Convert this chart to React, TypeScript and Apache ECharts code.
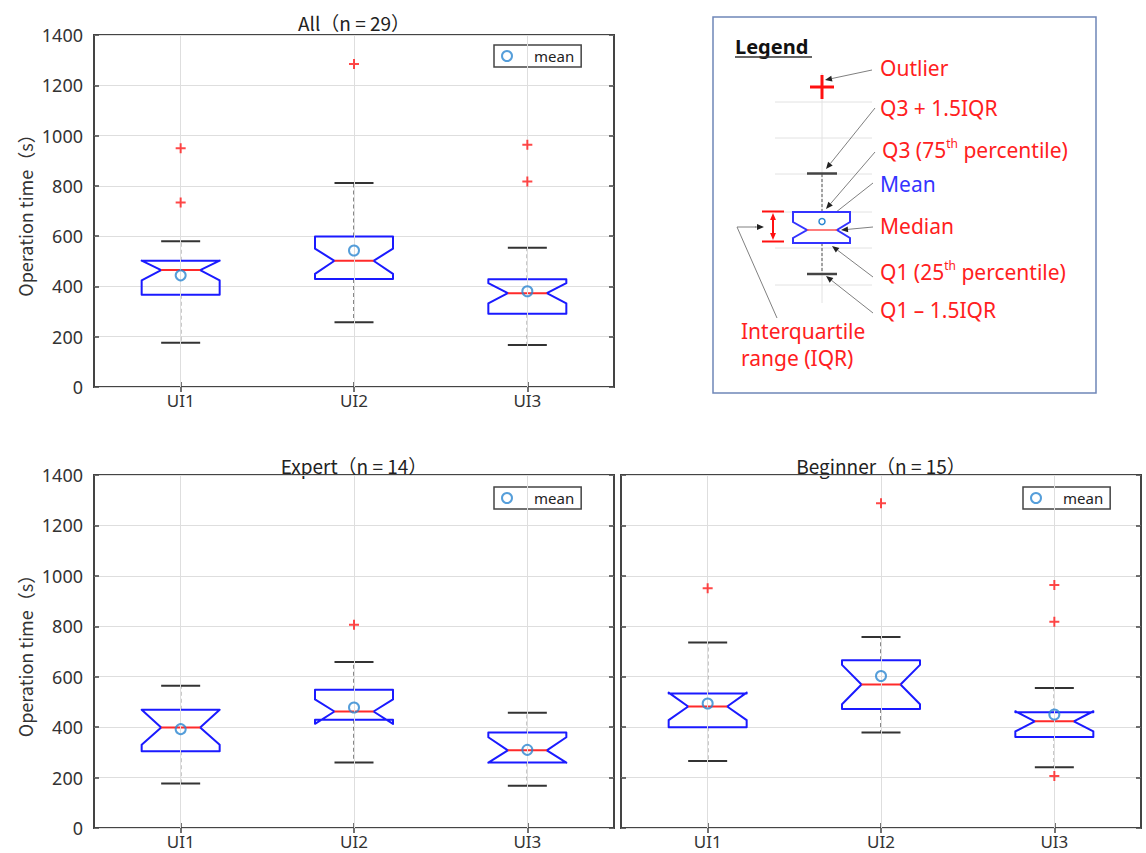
import React, { useEffect, useRef } from 'react';
import * as echarts from 'echarts';

// ---------- data ----------
const categories = ['UI1', 'UI2', 'UI3'];
const yMin = 0;
const yMax = 1400;
const yInterval = 200;

// each row: [lower whisker, Q1, notch low, median, notch high, Q3, upper whisker]
const allStats = [
  [176, 367, 424, 465, 503, 502, 580],
  [258, 430, 450, 502, 550, 599, 811],
  [167, 291, 333, 373, 413, 429, 554],
];
const allMeans = [444, 543, 381];
const allOutliers = [[950, 734], [1285], [963, 817]];

const expertStats = [
  [176, 304, 330, 399, 469, 469, 564],
  [260, 429, 413, 462, 510, 548, 658],
  [168, 260, 259, 308, 360, 379, 457],
];
const expertMeans = [392, 478, 310];
const expertOutliers = [[], [806], []];

const beginnerStats = [
  [266, 400, 428, 482, 537, 533, 736],
  [379, 472, 491, 569, 647, 665, 758],
  [241, 361, 383, 423, 463, 459, 555],
];
const beginnerMeans = [494, 603, 450];
const beginnerOutliers = [[951], [1288], [964, 818, 206]];

const panelTitles = ['All（n = 29）', 'Expert（n = 14）', 'Beginner（n = 15）'];
const yAxisName = 'Operation time（s）';

// ---------- styles ----------
const CJK = '"Noto Sans CJK JP", "Noto Sans", sans-serif';
const SANS = '"Noto Sans", "DejaVu Sans", sans-serif';
const FRAME = '#444';
const TXT = '#333';
const BOX_BLUE = '#1a1aff';
const MED_RED = '#ff2a2a';
const MEAN_BLUE = '#2a86d1';
const OUT_RED = '#ff1a1a';
const RED = '#ff2020';
const BLUE_TXT_COLOR = '#3535ff';
const GRAY_ARROW = '#808080';

const PLUS = 'path://M4,0h2v4h4v2h-4v4h-2v-4h-4v-2h4z';

const panels = [
  { stats: allStats, means: allMeans, outliers: allOutliers, grid: { left: 94, top: 35, width: 520, height: 352 }, legend: { left: 494, top: 45 }, title: { x: 354, y: 22 }, yLabels: true },
  { stats: expertStats, means: expertMeans, outliers: expertOutliers, grid: { left: 94, top: 475, width: 520, height: 353 }, legend: { left: 494, top: 487 }, title: { x: 354, y: 465 }, yLabels: true },
  { stats: beginnerStats, means: beginnerMeans, outliers: beginnerOutliers, grid: { left: 621, top: 475, width: 520, height: 353 }, legend: { left: 1023, top: 487 }, title: { x: 881, y: 465 }, yLabels: false },
];

const renderBox = (_params: any, api: any) => {
  const ci = api.value(0);
  const wl = api.value(1);
  const q1 = api.value(2);
  const nl = api.value(3);
  const md = api.value(4);
  const nh = api.value(5);
  const q3 = api.value(6);
  const wh = api.value(7);
  const x = api.coord([ci, md])[0];
  const Y = (v: number) => api.coord([ci, v])[1];
  const band = api.size([1, 0])[0];
  const hw = band * 0.225;
  const nw = hw / 2;
  const pts = [
    [x - hw, Y(q3)], [x + hw, Y(q3)], [x + hw, Y(nh)], [x + nw, Y(md)], [x + hw, Y(nl)], [x + hw, Y(q1)],
    [x - hw, Y(q1)], [x - hw, Y(nl)], [x - nw, Y(md)], [x - hw, Y(nh)],
  ];
  const dash = { stroke: '#3a3a3a', lineWidth: 1.2, lineDash: [4, 3] };
  const cap = { stroke: '#333', lineWidth: 2 };
  return {
    type: 'group',
    children: [
      { type: 'line', shape: { x1: x, y1: Y(q3), x2: x, y2: Y(wh) }, style: dash },
      { type: 'line', shape: { x1: x, y1: Y(q1), x2: x, y2: Y(wl) }, style: dash },
      { type: 'line', shape: { x1: x - nw, y1: Y(wh), x2: x + nw, y2: Y(wh) }, style: cap },
      { type: 'line', shape: { x1: x - nw, y1: Y(wl), x2: x + nw, y2: Y(wl) }, style: cap },
      { type: 'polygon', shape: { points: pts }, style: { fill: 'none', stroke: BOX_BLUE, lineWidth: 2, lineJoin: 'round' } },
      { type: 'line', shape: { x1: x - nw, y1: Y(md), x2: x + nw, y2: Y(md) }, style: { stroke: MED_RED, lineWidth: 2 } },
    ],
  };
};

function arrow(x1: number, y1: number, x2: number, y2: number, color = '#222', lineColor = GRAY_ARROW, size = 7, lw = 1) {
  const dx = x2 - x1;
  const dy = y2 - y1;
  const len = Math.hypot(dx, dy) || 1;
  const ux = dx / len;
  const uy = dy / len;
  const bx = x2 - ux * size;
  const by = y2 - uy * size;
  const px = -uy * size * 0.42;
  const py = ux * size * 0.42;
  return [
    { type: 'line', silent: true, z: 10, shape: { x1, y1, x2: bx, y2: by }, style: { stroke: lineColor, lineWidth: lw } },
    { type: 'polygon', silent: true, z: 10, shape: { points: [[x2, y2], [bx + px, by + py], [bx - px, by - py]] }, style: { fill: color } },
  ];
}

function redText(text: string, x: number, y: number, fill = RED) {
  return {
    type: 'text', silent: true, z: 10, x, y,
    style: { text, fill, fontSize: 21, lineHeight: 24, fontFamily: SANS, align: 'left', verticalAlign: 'middle' },
  };
}

function supText(pre: string, sup: string, post: string, x: number, y: number) {
  return {
    type: 'text', silent: true, z: 10, x, y,
    style: {
      text: `{a|${pre}}{s|${sup}}{a|${post}}`,
      align: 'left', verticalAlign: 'middle',
      rich: {
        a: { fontSize: 21, fontFamily: SANS, fill: RED, lineHeight: 26 },
        s: { fontSize: 12, fontFamily: SANS, fill: RED, lineHeight: 20, verticalAlign: 'top' },
      },
    },
  };
}

function legendPanel() {
  const g: any[] = [];
  g.push({ type: 'rect', silent: true, z: 9, shape: { x: 713, y: 17, width: 383, height: 376 }, style: { fill: '#fff', stroke: '#6f86b8', lineWidth: 1.5 } });
  g.push({ type: 'text', silent: true, z: 10, x: 735, y: 46, style: { text: 'Legend', fill: '#111', fontSize: 20, fontWeight: 'bold', fontFamily: SANS, align: 'left', verticalAlign: 'middle' } });
  g.push({ type: 'line', silent: true, z: 10, shape: { x1: 735, y1: 57, x2: 812, y2: 57 }, style: { stroke: '#333', lineWidth: 1.5 } });
  // mini grid
  [102, 138, 174, 212, 248, 285].forEach((yy) => {
    g.push({ type: 'line', silent: true, z: 10, shape: { x1: 775, y1: yy, x2: 872, y2: yy }, style: { stroke: '#e2e2e2', lineWidth: 1 } });
  });
  g.push({ type: 'line', silent: true, z: 10, shape: { x1: 822, y1: 73, x2: 822, y2: 303 }, style: { stroke: '#e2e2e2', lineWidth: 1 } });
  // outlier
  g.push({ type: 'line', silent: true, z: 11, shape: { x1: 810, y1: 87, x2: 834, y2: 87 }, style: { stroke: '#ff1010', lineWidth: 3 } });
  g.push({ type: 'line', silent: true, z: 11, shape: { x1: 822, y1: 75, x2: 822, y2: 99 }, style: { stroke: '#ff1010', lineWidth: 3 } });
  // whiskers
  g.push({ type: 'line', silent: true, z: 11, shape: { x1: 822, y1: 174, x2: 822, y2: 212 }, style: { stroke: '#555', lineWidth: 1, lineDash: [3, 2] } });
  g.push({ type: 'line', silent: true, z: 11, shape: { x1: 822, y1: 243, x2: 822, y2: 274 }, style: { stroke: '#555', lineWidth: 1, lineDash: [3, 2] } });
  g.push({ type: 'line', silent: true, z: 11, shape: { x1: 807, y1: 173.5, x2: 837, y2: 173.5 }, style: { stroke: '#444', lineWidth: 2.5 } });
  g.push({ type: 'line', silent: true, z: 11, shape: { x1: 807, y1: 274, x2: 837, y2: 274 }, style: { stroke: '#444', lineWidth: 2.5 } });
  // box
  g.push({ type: 'polygon', silent: true, z: 11, shape: { points: [[793, 212], [850, 212], [850, 222], [837, 230], [850, 238], [850, 243], [793, 243], [793, 238], [807, 230], [793, 222]] }, style: { fill: '#fff', stroke: '#3333ff', lineWidth: 2 } });
  g.push({ type: 'line', silent: true, z: 12, shape: { x1: 807, y1: 230, x2: 837, y2: 230 }, style: { stroke: '#ff5050', lineWidth: 1.5 } });
  g.push({ type: 'circle', silent: true, z: 12, shape: { cx: 822, cy: 221.5, r: 3 }, style: { fill: 'none', stroke: MEAN_BLUE, lineWidth: 1.5 } });
  // IQR bracket
  g.push({ type: 'line', silent: true, z: 11, shape: { x1: 762, y1: 211.5, x2: 784, y2: 211.5 }, style: { stroke: '#ff1010', lineWidth: 2 } });
  g.push({ type: 'line', silent: true, z: 11, shape: { x1: 762, y1: 241.5, x2: 784, y2: 241.5 }, style: { stroke: '#ff1010', lineWidth: 2 } });
  g.push(...arrow(773, 226, 773, 213, '#ff1010', '#ff1010', 7, 2));
  g.push(...arrow(773, 226, 773, 240, '#ff1010', '#ff1010', 7, 2));
  // arrows
  g.push(...arrow(872, 70, 825, 80));
  g.push(...arrow(875, 108, 826, 169));
  g.push(...arrow(875, 152, 826, 209));
  g.push(...arrow(873, 183, 826, 220));
  g.push(...arrow(873, 227, 841, 230));
  g.push(...arrow(873, 277, 832, 246));
  g.push(...arrow(873, 313, 826, 276));
  g.push({ type: 'polyline', silent: true, z: 10, shape: { points: [[777, 318], [737, 227], [756, 227]] }, style: { fill: 'none', stroke: GRAY_ARROW, lineWidth: 1 } });
  g.push(...arrow(755, 227, 764, 227));
  // labels
  g.push(redText('Outlier', 880, 68));
  g.push(redText('Q3 + 1.5IQR', 880, 108));
  g.push(supText('Q3 (75', 'th', ' percentile)', 882, 150));
  g.push(redText('Mean', 880, 184, BLUE_TXT_COLOR));
  g.push(redText('Median', 880, 226));
  g.push(supText('Q1 (25', 'th', ' percentile)', 880, 272));
  g.push(redText('Q1 – 1.5IQR', 880, 310));
  g.push(redText('Interquartile', 741, 331));
  g.push(redText('range (IQR)', 741, 358));
  return g;
}

function buildOption() {
  const grid: any[] = [];
  const xAxis: any[] = [];
  const yAxis: any[] = [];
  const series: any[] = [];
  const legend: any[] = [];
  const graphic: any[] = [];

  panels.forEach((p) => {
    grid.push({ ...p.grid, show: true, borderColor: FRAME, borderWidth: 2, backgroundColor: 'transparent' });
  });
  panels.forEach((p, g) => {
    xAxis.push({
      type: 'category', gridIndex: g, data: categories, position: 'bottom',
      axisLine: { show: false },
      axisTick: { show: true, inside: true, length: 5, alignWithLabel: true, lineStyle: { color: FRAME, width: 1.5 } },
      axisLabel: { fontSize: 17, lineHeight: 17, color: TXT, margin: 5, fontFamily: SANS },
      splitLine: { show: false },
    });
  });
  panels.forEach((p, g) => {
    xAxis.push({
      type: 'category', gridIndex: g, data: categories, position: 'top',
      axisLine: { show: false },
      axisTick: { show: true, inside: true, length: 5, alignWithLabel: true, lineStyle: { color: FRAME, width: 1.5 } },
      axisLabel: { show: false },
      splitLine: { show: false },
    });
  });
  panels.forEach((p, g) => {
    yAxis.push({
      type: 'value', gridIndex: g, min: yMin, max: yMax, interval: yInterval, position: 'left',
      axisLine: { show: false },
      axisTick: { show: true, inside: true, length: 5, lineStyle: { color: FRAME, width: 1.5 } },
      axisLabel: { show: p.yLabels, fontSize: 18, color: TXT, margin: 11, fontFamily: SANS, formatter: (v: number) => String(v) },
      splitLine: { show: true, lineStyle: { color: '#dedede', width: 1 } },
      name: p.yLabels ? yAxisName : '',
      nameLocation: 'middle', nameGap: 60,
      nameTextStyle: { fontSize: 18, color: TXT, fontFamily: CJK },
    });
  });
  panels.forEach((p, g) => {
    yAxis.push({
      type: 'value', gridIndex: g, min: yMin, max: yMax, interval: yInterval, position: 'right',
      axisLine: { show: false },
      axisTick: { show: true, inside: true, length: 5, lineStyle: { color: FRAME, width: 1.5 } },
      axisLabel: { show: false },
      splitLine: { show: false },
    });
  });

  panels.forEach((p, g) => {
    series.push({
      type: 'scatter', name: 'grid', xAxisIndex: g, yAxisIndex: g, data: [], z: 1, silent: true,
      markLine: {
        silent: true, symbol: 'none', label: { show: false }, animation: false,
        lineStyle: { color: '#dedede', width: 1, type: 'solid' },
        data: categories.map((c) => ({ xAxis: c })),
      },
    });
    series.push({
      type: 'custom', name: 'box', xAxisIndex: g, yAxisIndex: g, z: 3, silent: true,
      renderItem: renderBox,
      encode: { x: 0, y: [1, 2, 3, 4, 5, 6, 7] },
      data: p.stats.map((s, i) => [i, ...s]),
    });
    const outs: number[][] = [];
    p.outliers.forEach((list, i) => list.forEach((v) => outs.push([i, v])));
    series.push({
      type: 'scatter', name: 'outlier', xAxisIndex: g, yAxisIndex: g, z: 5, silent: true,
      symbol: PLUS, symbolSize: 10, itemStyle: { color: OUT_RED }, data: outs,
    });
    series.push({
      type: 'scatter', name: 'mean', xAxisIndex: g, yAxisIndex: g, z: 6, silent: true,
      symbol: 'circle', symbolSize: 10,
      itemStyle: { color: 'rgba(0,0,0,0)', borderColor: MEAN_BLUE, borderWidth: 2 },
      data: p.means.map((m, i) => [i, m]),
    });
    legend.push({
      left: p.legend.left, top: p.legend.top, orient: 'horizontal', selectedMode: false,
      data: [{ name: 'mean', icon: 'circle' }],
      itemWidth: 44, itemHeight: 10, padding: [2, 7, 2, 7],
      borderColor: '#444', borderWidth: 1.5, borderRadius: 0, backgroundColor: '#fff',
      itemStyle: { color: 'rgba(0,0,0,0)', borderColor: MEAN_BLUE, borderWidth: 2 },
      textStyle: { fontSize: 15, color: '#222', lineHeight: 18, fontFamily: SANS },
    });
    graphic.push({
      type: 'text', silent: true, x: p.title.x, y: p.title.y,
      style: { text: panelTitles[g], fill: '#222', fontSize: 19, fontFamily: CJK, align: 'center', verticalAlign: 'middle' },
    });
  });

  graphic.push(...legendPanel());

  return {
    animation: false,
    backgroundColor: '#fff',
    grid, xAxis, yAxis, series, legend, graphic,
  };
}

export default function App() {
  const ref = useRef<HTMLDivElement>(null);
  useEffect(() => {
    document.body.style.margin = '0';
    if (!ref.current) return;
    const chart = echarts.init(ref.current, undefined, { renderer: 'svg' });
    chart.setOption(buildOption() as any);
    return () => chart.dispose();
  }, []);
  return <div ref={ref} style={{ width: 1146, height: 853 }} />;
}
